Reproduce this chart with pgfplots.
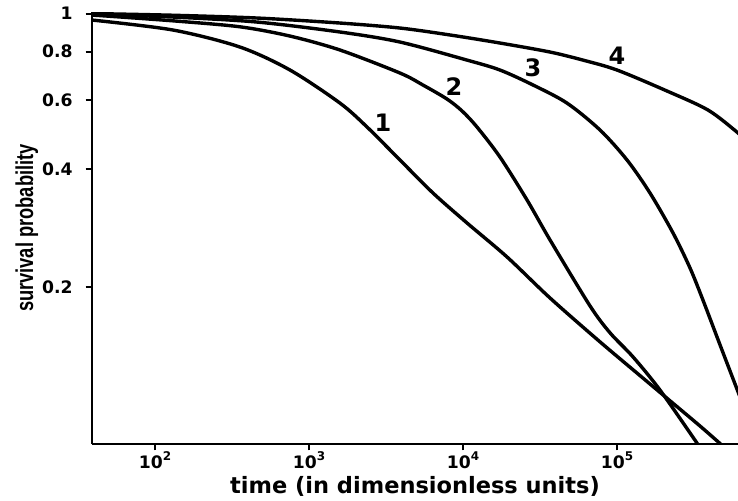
\documentclass[border=0pt]{standalone}
\usepackage{fontspec}
\setmainfont{DejaVu Sans}
\newfontfamily\lsans{Liberation Sans}[BoldFont={Liberation Sans Bold}]
\usepackage{pgfplots}
\pgfplotsset{compat=1.18}
\newcommand{\sexp}[1]{10\raisebox{4pt}{\fontsize{6}{7}\selectfont #1}}
\begin{document}
\begin{tikzpicture}
\path[use as bounding box] (-46pt,-28pt) rectangle (323pt,222pt);
\begin{axis}[
  at={(0,0)}, anchor=south west,
  scale only axis, width=323pt, height=216pt,
  xmode=log, ymode=log,
  xmin=39, xmax=611000, ymin=0.0797, ymax=1.009,
  axis lines=left, axis line style={-, line width=1.2pt},
  tick align=outside, major tick length=3.2pt,
  every tick/.style={line width=1pt, black},
  xminorticks=false, yminorticks=false,
  xtick={100,1000,10000,100000},
  xticklabels={\sexp{2},\sexp{3},\sexp{4},\sexp{5}},
  ytick={0.2,0.4,0.6,0.8,1},
  yticklabels={0.2,0.4,0.6,0.8,1},
  ticklabel style={font=\bfseries\fontsize{8.6}{10}\selectfont},
  xticklabel style={inner sep=0.5pt},
  yticklabel style={xshift=-3pt},
  xlabel={time (in dimensionless units)},
  xlabel style={font=\bfseries\fontsize{11.25}{13}\selectfont, at={(axis description cs:0.5,0)}, anchor=base, yshift=-24.5pt},
  ylabel={\scalebox{0.75}[1]{\lsans\bfseries survival probability}},
  ylabel style={font=\fontsize{12.2}{14}\selectfont, at={(axis description cs:-0.0913,0.5)}, anchor=base},
  clip=true,
]
\addplot[black, line width=1.7pt, smooth] coordinates {
(39,0.9625) (131,0.9076) (356,0.8214) (753,0.7176) (1589,0.5909) (2383,0.5133) (3899,0.4229) (6383,0.3484) (10620,0.2921) (19320,0.2392) (36740,0.1880) (77660,0.1452) (163800,0.1134) (345800,0.0886) (502000,0.0779)
};
\addplot[black, line width=1.7pt, smooth] coordinates {
(39,0.9912) (131,0.958) (356,0.925) (753,0.876) (1589,0.8071) (3899,0.7050) (5495,0.6570) (7870,0.6052) (9860,0.5641) (12330,0.5133) (17380,0.4304) (26050,0.3344) (36740,0.2644) (66830,0.1794) (90200,0.1531) (127000,0.1330) (190000,0.1095) (330300,0.0802) (345800,0.0779)
};
\addplot[black, line width=1.7pt, smooth] coordinates {
(39,0.9971) (131,0.9796) (459,0.9513) (1589,0.8972) (3899,0.8458) (10620,0.7607) (17380,0.7176) (28500,0.6571) (47340,0.5909) (77660,0.5043) (116200,0.4229) (163800,0.3484) (231100,0.2755) (297900,0.2243) (361500,0.1858) (466800,0.1427) (611000,0.1083) (677700,0.0974)
};
\addplot[black, line width=1.7pt, smooth] coordinates {
(39,1.0) (131,0.99) (459,0.974) (1589,0.9457) (3899,0.9183) (8240,0.8816) (17380,0.8409) (36740,0.7977) (60100,0.7607) (100000,0.7176) (211400,0.6342) (389900,0.5673) (601000,0.4984) (677700,0.4756)
};
\node[font=\bfseries\fontsize{12}{14}\selectfont] at (axis cs:3027,0.5256) {1};
\node[font=\bfseries\fontsize{12}{14}\selectfont] at (axis cs:8750,0.6494) {2};
\node[font=\bfseries\fontsize{12}{14}\selectfont] at (axis cs:28500,0.7261) {3};
\node[font=\bfseries\fontsize{12}{14}\selectfont] at (axis cs:100000,0.7789) {4};
\end{axis}
\end{tikzpicture}
\end{document}
